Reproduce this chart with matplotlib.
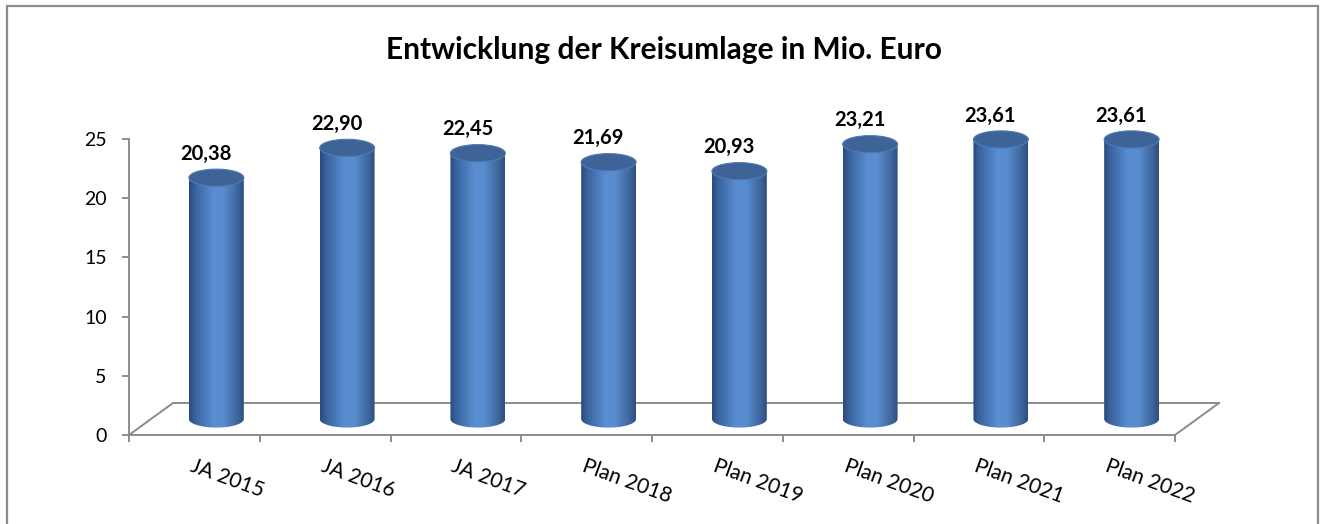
import numpy as np
import matplotlib
matplotlib.use("Agg")
import matplotlib.pyplot as plt
from matplotlib.patches import Ellipse, Rectangle, PathPatch
from matplotlib.path import Path
from matplotlib.colors import LinearSegmentedColormap

plt.rcParams['font.family'] = ['Lato', 'DejaVu Sans']

# ---- data ----
categories = ["JA 2015", "JA 2016", "JA 2017", "Plan 2018", "Plan 2019",
              "Plan 2020", "Plan 2021", "Plan 2022"]
values = [20.38, 22.90, 22.45, 21.69, 20.93, 23.21, 23.61, 23.61]
value_labels = ["20,38", "22,90", "22,45", "21,69", "20,93", "23,21", "23,61", "23,61"]
y_ticks = [0, 5, 10, 15, 20, 25]
title = "Entwicklung der Kreisumlage in Mio. Euro"

# ---- figure ----
W, H = 1325, 524
fig = plt.figure(figsize=(W / 100, H / 100), dpi=100)
fig.patch.set_facecolor("white")

# outer chart border
fig.patches.append(Rectangle((7 / W, -0.1), 1311 / W, 1.1 - 6 / H,
                             transform=fig.transFigure, fill=False,
                             edgecolor="#8c8c8c", lw=1.6, zorder=0))

ax_l, ax_r, ax_t, ax_b = 129, 1175, 139, 435
ax = fig.add_axes([ax_l / W, (H - ax_b) / H, (ax_r - ax_l) / W, (ax_b - ax_t) / H])
ax.set_facecolor("none")

n = len(categories)
x = np.arange(n)
DX = 44 / ((ax_r - ax_l) / n)      # depth offset in category units
DY = 32 / ((ax_b - ax_t) / 25)     # depth offset in value units

gray = "#8c8c8c"
# floor (3D base)
ax.plot([-0.5 + DX, n - 0.5 + DX], [DY, DY], color=gray, lw=1.4, clip_on=False, zorder=1)
ax.plot([-0.5, -0.5 + DX], [0, DY], color=gray, lw=1.4, clip_on=False, zorder=1)
ax.plot([n - 0.5, n - 0.5 + DX], [0, DY], color=gray, lw=1.4, clip_on=False, zorder=1)

# cylinders
bw = 0.42
eh = 1.45
base = DY / 2
cmap = LinearSegmentedColormap.from_list(
    "cyl", [(0.0, "#2a4a78"), (0.12, "#3a64a0"), (0.45, "#5a8ed2"),
            (0.62, "#5a8dd0"), (0.88, "#3f669e"), (1.0, "#2d4f80")])
grad = np.linspace(0, 1, 256).reshape(1, -1)

t = np.linspace(np.pi, 2 * np.pi, 60)
for xi, v, lab in zip(x, values, value_labels):
    cx = xi + DX / 2
    top = base + v
    # body outline: left side down, bottom half-ellipse, right side up
    ex = cx + bw / 2 * np.cos(t)
    ey = base + eh / 2 * np.sin(t)
    verts = [(cx - bw / 2, top)] + list(zip(ex, ey)) + [(cx + bw / 2, top), (cx - bw / 2, top)]
    codes = [Path.MOVETO] + [Path.LINETO] * (len(verts) - 2) + [Path.CLOSEPOLY]
    body = PathPatch(Path(verts, codes), facecolor="none", edgecolor="none")
    ax.add_patch(body)
    im = ax.imshow(grad, cmap=cmap, aspect="auto", interpolation="bicubic",
                   extent=[cx - bw / 2, cx + bw / 2, base - eh, top], zorder=3)
    im.set_clip_path(body)
    ax.add_patch(Ellipse((cx, top), bw, eh, facecolor="#3d6397",
                         edgecolor="#4f7ab5", lw=0.8, zorder=4, clip_on=False))
    ax.text(cx - 0.08, top + eh / 2 + 0.45, lab, ha="center", va="bottom",
            fontsize=14.5, fontweight="bold", color="black", zorder=5, clip_on=False)

ax.set_xlim(-0.5, n - 0.5)
ax.set_ylim(0, 25)

# spines
for s in ["top", "right"]:
    ax.spines[s].set_visible(False)
for s in ["left", "bottom"]:
    ax.spines[s].set_color(gray)
    ax.spines[s].set_linewidth(1.4)

ax.set_yticks(y_ticks)
ax.set_yticklabels([str(v) for v in y_ticks])
ax.tick_params(axis="y", length=5, width=1.4, color=gray, pad=11, labelsize=14)

ax.set_xticks(x)
ax.set_xticklabels(categories, rotation=-20, ha="left", va="top",
                   rotation_mode="anchor", fontsize=15)
ax.tick_params(axis="x", which="major", length=0, pad=15)
ax.set_xticks(np.arange(n + 1) - 0.5, minor=True)
ax.tick_params(axis="x", which="minor", length=5, width=1.4, color=gray, direction="out")

fig.text(664 / W, (H - 50) / H, title, ha="center", va="center",
         fontsize=21.5, fontweight="bold")

fig.savefig("out.png", dpi=100)
